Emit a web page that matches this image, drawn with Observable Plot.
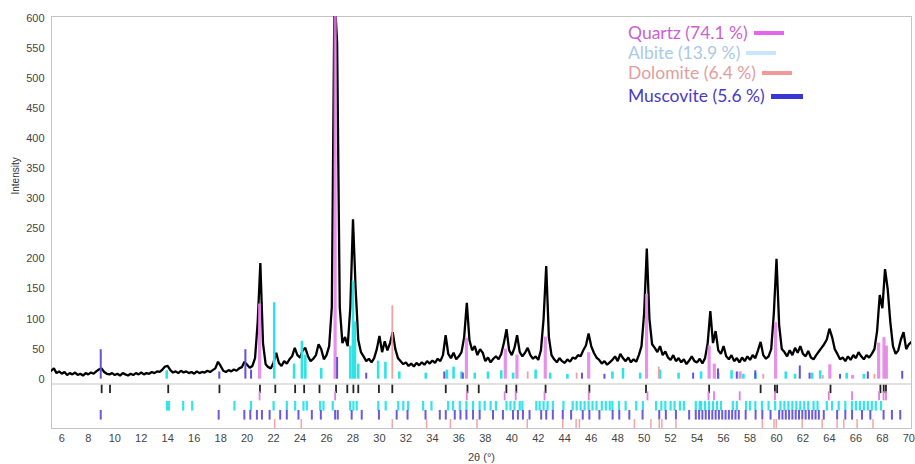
<!DOCTYPE html>
<html><head><meta charset="utf-8">
<script src="https://cdn.jsdelivr.net/npm/d3@7"></script>
<script src="https://cdn.jsdelivr.net/npm/@observablehq/plot@0.6"></script>
<style>
body{margin:0;background:#fff;}
#wrap{position:relative;width:915px;height:464px;overflow:hidden;}
#legend{position:absolute;left:628px;top:23px;font-family:Lato,"Open Sans",sans-serif;font-size:17.5px;line-height:20px;}
#legend .row{display:flex;align-items:center;white-space:nowrap;}
#legend .sw{display:inline-block;height:4px;margin-left:6px;}
</style></head><body><div id="wrap"></div>
<script>
// 2θ grid of the measured pattern: start 5.2°, step 0.2°
const start = 5.2, step = 0.2;
const intensity = [
14,18,10,13,
9,12,7,10,8, 11,7,9,6,10, 8,11,9,13,16, 18,12,9,8,10,
7,9,6,10,8, 6,9,7,10,8, 11,8,10,9,12, 10,13,12,16,21,
22,15,11,13,10, 14,11,13,10,12, 9,13,10,12,11, 14,12,15,18,29,
22,14,12,15,13, 16,14,18,20,29, 24,19,22,35,95, 193,60,25,20,18,
28,44,27,22,30, 26,33,38,52,40, 36,48,52,38,30, 34,40,58,50,33,
40,55,120,640,560, 120,60,70,55,120, 266,150,65,45,38, 30,34,28,35,50,
72,45,63,48,60, 78,50,35,30,25, 28,22,26,21,27, 23,28,24,30,26,
31,27,34,30,40, 73,42,35,44,33, 38,45,70,127,65, 48,55,40,50,44,
30,36,28,34,38, 33,42,60,83,48, 40,52,73,45,38, 44,52,40,34,38,
32,48,100,188,70, 40,33,28,35,30, 27,33,29,36,34, 40,38,48,56,76,
55,44,36,32,26, 30,24,28,32,38, 30,42,35,30,36, 28,33,29,40,55,
110,217,100,58,52, 45,55,40,46,36, 32,40,30,35,28, 33,25,31,38,30,
28,34,26,35,60, 113,60,80,48,42, 55,38,33,40,30, 35,28,36,30,38,
32,40,35,48,62, 40,34,38,50,110, 200,90,50,45,38, 48,40,52,44,55,
42,38,47,36,33, 40,46,52,58,66, 84,70,50,42,33, 36,30,38,32,40,
35,45,38,33,40, 36,42,50,80,140, 118,183,150,95,55, 42,48,66,78,50,
58,62
];

// reference sticks in the pattern panel: [2θ, intensity]
const quartzSticks = [[20.94,125],[26.65,640],[36.57,68],[39.51,50],[40.39,40],[42.53,70],[45.81,44],[50.18,141],[54.91,55],[55.3,25],[57.25,12],[59.93,94],[64.03,24],[65.75,6],[67.72,60],[68.12,69],[68.3,55]];
const albiteSticks = [[13.93,14],[22.05,127],[23.55,25],[24.14,63],[24.4,40],[25.6,18],[27.8,55],[28.0,163],[28.15,95],[28.4,25],[29.9,30],[30.45,28],[31.5,12],[33.5,10],[35.1,15],[35.6,20],[36.2,12],[37.2,10],[38.2,12],[39.2,14],[40.1,10],[41.8,15],[42.9,10],[44.2,8],[47.6,12],[48.4,18],[49.7,10],[51.2,15],[52.6,10],[54.3,12],[55.6,10],[56.6,14],[57.5,8],[58.4,10],[60.7,12],[61.4,8],[62.7,10],[63.3,14],[65.3,10],[66.6,8]];
const dolomiteSticks = [[30.97,122],[41.2,12],[44.9,10],[51.1,20],[59.0,8],[63.5,6],[67.4,8]];
const muscoviteSticks = [[8.94,49],[17.9,12],[19.87,49],[20.3,15],[26.8,36],[29.0,10],[34.9,12],[36.3,10],[45.3,10],[47.0,8],[53.7,10],[55.58,17],[57.0,12],[58.4,14],[61.76,22],[62.5,10],[64.8,8],[66.9,12],[69.5,13]];

// reflection positions in the lower panel (2θ)
const peakPos = [9.01,9.64,14.04,17.91,20.97,22.13,23.63,24.31,25.47,26.72,27.57,28.03,28.4,29.96,30.97,35.01,36.65,37.5,39.59,40.34,42.55,45.86,50.14,54.91,58.8,59.88,60.05,64.08,67.85,68.1,68.27];
const quartzPos = [20.94,26.65,36.6,39.46,40.29,42.47,45.81,50.25,54.86,55.28,57.22,59.88,63.95,65.71,67.75,68.09,68.27];
const albitePos = [13.95,14.1,15.17,15.85,19.04,20.29,22.0,23.0,23.63,24.26,24.51,25.52,25.77,26.47,27.78,28.03,28.28,29.91,30.47,31.42,31.8,32.17,33.3,33.93,35.19,35.56,36.07,36.57,37.07,37.57,37.95,38.4,38.8,39.6,39.9,40.2,40.6,40.8,41.85,42.1,42.4,42.7,43.1,43.9,44.6,44.9,45.2,45.5,45.8,46.1,46.4,46.8,47.1,47.4,47.6,48.1,48.6,49.4,49.9,50.9,51.3,51.6,52.0,52.3,52.7,53.0,53.9,54.2,54.3,54.6,54.9,55.2,55.5,55.8,56.7,57.0,57.7,58.0,58.4,58.9,59.4,59.9,60.3,60.6,60.9,61.2,61.5,61.8,62.1,62.4,62.8,63.1,63.8,64.2,64.7,65.2,65.7,66.0,66.3,66.6,66.9,67.2,67.5,67.9];
const muscovitePos = [8.94,17.85,19.79,20.24,20.74,21.12,21.7,22.5,23.0,23.88,24.89,25.57,26.65,26.85,27.9,28.66,29.96,31.3,32.12,33.48,34.56,35.01,35.69,36.12,36.57,37.07,37.57,38.58,39.33,40.09,40.46,40.84,41.34,42.22,42.6,43.1,43.85,44.48,45.36,45.86,46.62,47.62,48.12,48.88,49.88,51.14,51.64,52.4,53.4,53.9,54.15,54.4,54.65,54.9,55.15,55.4,55.65,55.9,56.15,56.4,56.65,56.9,57.15,57.67,58.42,58.93,59.55,60.2,60.45,60.7,60.95,61.2,61.45,61.7,61.95,62.2,62.45,62.7,62.95,63.2,63.57,64.58,65.2,65.71,66.46,67.09,68.09,68.72,69.35];
const dolomitePos = [22.08,24.09,30.97,33.56,35.36,37.37,41.17,43.85,44.86,45.11,49.26,50.51,51.14,51.34,52.4,58.93,59.81,59.98,61.94,63.45,64.58,65.08,66.09,67.29];

const xTicks = [6,8,10,12,14,16,18,20,22,24,26,28,30,32,34,36,38,40,42,44,46,48,50,52,54,56,58,60,62,64,66,68,70];
const yTicks = [0,50,100,150,200,250,300,350,400,450,500,550,600];

const legendNames = ["Quartz (74.1 %)","Albite (13.9 %)","Dolomite (6.4 %)","Muscovite (5.6 %)"];
const legendText = ["#cc5fd2","#a9c9e6","#e29e9e","#4a3ac6"];
const legendSwatch = ["#e466ea","#c6e7f8","#f29a9a","#3a36d6"];

const pattern = intensity.map((v, i) => ({t: start + i * step, v}));
const st = a => a.map(([t, v]) => ({t, v}));

const chart = Plot.plot({
  width: 915, height: 464,
  marginLeft: 51, marginRight: 4, marginTop: 16, marginBottom: 36,
  style: {fontFamily: "'Liberation Sans', Arial, sans-serif", fontSize: "11px", color: "#444", background: "#fff"},
  x: {domain: [5.22, 70.2], ticks: xTicks, tickSize: 0, tickPadding: 6, label: "2θ (°)", labelAnchor: "center", labelOffset: 32, labelArrow: "none"},
  y: {domain: [-82, 603], ticks: yTicks, tickSize: 0, tickPadding: 7, label: null},
  marks: [
    Plot.frame({stroke: "#c4c4c4"}),
    Plot.ruleY([-8], {stroke: "#c4c4c4"}),
    Plot.line(pattern, {x: "t", y: "v", stroke: "#000", strokeWidth: 2.3, strokeLinejoin: "miter", clip: true}),
    Plot.ruleX(st(quartzSticks), {x: "t", y1: 0, y2: "v", stroke: "#e07fe4", strokeWidth: 3.2, strokeOpacity: 0.85, clip: true}),
    Plot.ruleX(st(albiteSticks), {x: "t", y1: 0, y2: "v", stroke: "#2de3e6", strokeWidth: 2.6, clip: true}),
    Plot.ruleX(st(dolomiteSticks), {x: "t", y1: 0, y2: "v", stroke: "#f2a0a0", strokeWidth: 1.8, clip: true}),
    Plot.ruleX(st(muscoviteSticks), {x: "t", y1: 0, y2: "v", stroke: "#6252d8", strokeWidth: 2, clip: true}),
    Plot.ruleX(peakPos, {y1: -10, y2: -24, stroke: "#222", strokeWidth: 1.8}),
    Plot.ruleX(quartzPos, {y1: -21, y2: -36, stroke: "#e07fe4", strokeWidth: 1.8}),
    Plot.ruleX(albitePos, {y1: -37, y2: -53, stroke: "#33e4e8", strokeWidth: 2.2}),
    Plot.ruleX(muscovitePos, {y1: -52, y2: -68, stroke: "#6a5ae0", strokeWidth: 2}),
    Plot.ruleX(dolomitePos, {y1: -67, y2: -82, stroke: "#f2a6a6", strokeWidth: 1.5}),
    Plot.text(["Intensity"], {frameAnchor: "left", rotate: -90, dx: -36, dy: -28, fontSize: 10, fill: "#333"})
  ]
});
const wrap = document.getElementById("wrap");
wrap.appendChild(chart);
const lg = document.createElement("div");
lg.id = "legend";
legendNames.forEach((n, i) => {
  const r = document.createElement("div");
  r.className = "row";
  if (i === 3) r.style.marginTop = "3px";
  const s = document.createElement("span");
  s.textContent = n; s.style.color = legendText[i];
  const w = document.createElement("span");
  w.className = "sw"; w.style.background = legendSwatch[i];
  w.style.width = (i === 3 ? 32 : 30) + "px";
  if (i === 3) w.style.height = "5px";
  r.appendChild(s); r.appendChild(w);
  lg.appendChild(r);
});
wrap.appendChild(lg);
</script>
</body></html>
